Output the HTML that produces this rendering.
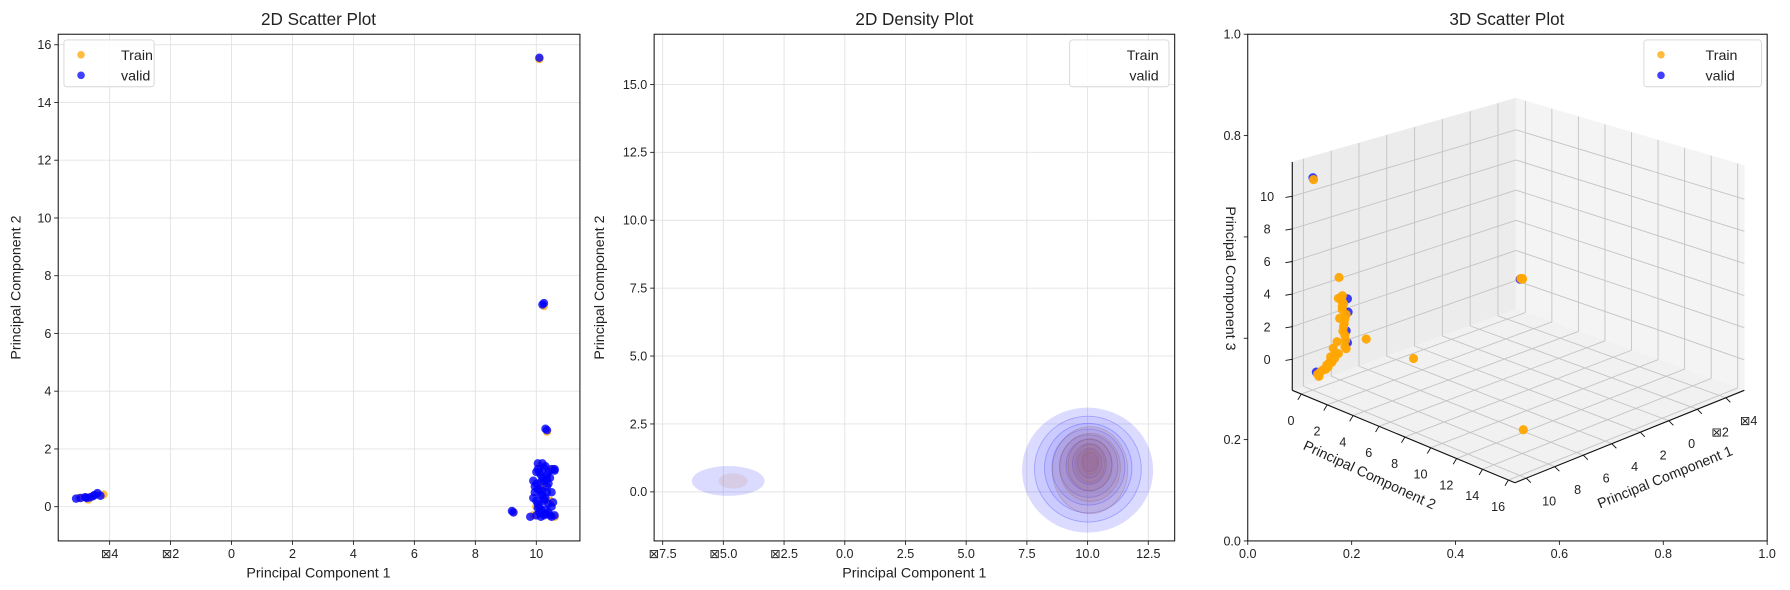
<!DOCTYPE html>
<html><head><meta charset="utf-8"><style>
html,body{margin:0;padding:0;background:#fff;}
svg{display:block;font-family:"Liberation Sans","DejaVu Sans",sans-serif;}
</style></head><body>
<svg id="fig" width="1790" height="590" viewBox="0 0 1568 517" preserveAspectRatio="none" xmlns="http://www.w3.org/2000/svg">
<rect x="0" y="0" width="1568" height="517" fill="#fff"/>
<g id="p1"></g>
<g id="p2"></g>
<g id="p3"></g>
<text x="279" y="22" font-size="15" text-anchor="middle" fill="#222">2D Scatter Plot</text>
<text x="279" y="506" font-size="12.5" text-anchor="middle" fill="#222">Principal Component 1</text>
<text transform="translate(18,252) rotate(-90)" font-size="12.5" text-anchor="middle" fill="#222">Principal Component 2</text>
<text x="801" y="22" font-size="15" text-anchor="middle" fill="#222">2D Density Plot</text>
<text x="801" y="506" font-size="12.5" text-anchor="middle" fill="#222">Principal Component 1</text>
<text transform="translate(529,252) rotate(-90)" font-size="12.5" text-anchor="middle" fill="#222">Principal Component 2</text>
<text x="1320" y="22" font-size="15" text-anchor="middle" fill="#222">3D Scatter Plot</text>
</svg>
<script>
// ---------- data ----------
const ticks1X = [-4,-2,0,2,4,6,8,10];
const ticks1Y = [0,2,4,6,8,10,12,14,16];
const trainX = [-5.0,-4.8,-4.7,-4.6,-4.4,-4.2,10.1,10.25,10.35,9.25,10.6,10.55,10.0,10.2,10.1,9.9,10.45,10.3];
const trainY = [0.3,0.33,0.25,0.35,0.42,0.42,15.5,6.95,2.6,-0.18,-0.35,1.3,0.0,0.7,1.4,-0.3,0.2,-0.25];
const validX = [-5.1,-4.95,-4.8,-4.65,-4.5,-4.4,-4.3,-4.75,-4.55,10.1,10.2,10.25,10.3,10.35,9.2,9.25,10.0,10.1,10.0,10.2,10.1,10.0,10.2,10.1,10.3,10.2,10.4,10.5,10.6,10.4,10.3,10.5,10.4,10.6,9.8,9.9,9.95,10.3,10.15,10.5,
  10.05,10.15,10.25,10.35,10.05,10.15,10.25,10.35,10.05,10.15,10.25,10.35,10.05,10.15,10.25,10.35,10.45,10.55,9.95,10.0,10.1,10.2,10.3,10.4,10.5,9.9,10.05,10.25,10.45,10.6];
const validY = [0.28,0.3,0.33,0.32,0.4,0.47,0.38,0.3,0.36,15.55,7.0,7.05,2.7,2.65,-0.15,-0.2,-0.3,0.0,0.2,0.4,0.6,0.8,1.0,1.2,1.4,1.5,1.2,1.3,1.25,0.8,0.3,0.0,-0.2,-0.3,-0.35,0.9,0.5,-0.1,-0.35,0.5,
  1.3,1.1,0.9,0.7,0.6,0.4,0.2,1.1,0.1,-0.1,-0.3,0.5,1.5,0.85,1.35,0.95,1.0,0.15,0.7,1.2,-0.2,0.55,-0.25,0.1,-0.35,0.3,-0.05,0.25,-0.3,1.3];

const ticks2X = [-7.5,-5.0,-2.5,0.0,2.5,5.0,7.5,10.0,12.5];
const ticks2Y = [0.0,2.5,5.0,7.5,10.0,12.5,15.0];
const blobCX = [-4.8,10.0];
const blobCY = [0.4,0.8];
const validLevelRX = [[1.5],[2.7,2.2,1.8,1.5,1.2,0.95,0.7,0.5,0.3]];
const validLevelRY = [[0.55],[2.3,1.95,1.65,1.4,1.15,0.95,0.75,0.55,0.35]];
const trainLevelRX = [[0.6],[1.55,1.25,0.9,0.6,0.35]];
const trainLevelRY = [[0.28],[1.6,1.25,0.95,0.7,0.45]];
const trainLevelDY = [[0.0],[0.0,0.1,0.2,0.25,0.3]];

const ticks3Frame = [0.0,0.2,0.4,0.6,0.8,1.0];
const ticks3PC1 = [-4,-2,0,2,4,6,8,10];
const ticks3PC2 = [0,2,4,6,8,10,12,14,16];
const ticks3PC3 = [0,2,4,6,8,10];
const train3PC1 = [10.2,10,10,10,10,10,10,10,9.9,10,10,10,10,10,10,10,10,10,10,10,-4.8,-4.6,-4.9,9.3,
  10,10,10,10,10,10,10,10,10,10,10,10,10,10,10,10];
const train3PC2 = [0.3,2.05,2.2,2.4,2.3,2.5,2.4,2.5,2.2,2.0,0.4,0.8,1.1,1.4,1.6,1.9,1.5,4.15,7.8,2.6,0.3,0.4,0.2,15.5,
  2.3,2.6,2.45,2.35,2.55,2.3,2.5,2.1,1.8,1.3,1.0,0.6,0.5,1.7,2.0,1.2];
const train3PC3 = [11.2,5.7,4.5,4.2,3.8,3.3,2.8,2.3,4.6,4.4,-0.8,-0.4,0.0,0.6,1.2,1.7,0.3,2.6,2.6,1.5,0.6,0.7,0.5,0.5,
  4.0,3.6,3.0,2.5,2.0,4.3,1.6,3.2,0.9,0.2,-0.3,-0.6,-0.9,0.6,1.0,-0.1];
const valid3PC1 = [10.2,10,10,10,10,10,-4.5];
const valid3PC2 = [0.25,2.7,2.75,2.6,2.7,0.3,0.45];
const valid3PC3 = [11.3,4.6,3.8,2.6,1.9,-0.7,0.7];

// ---------- helpers ----------
const NS = "http://www.w3.org/2000/svg";
function mk(parent, tag, attrs, txt){
  const e = document.createElementNS(NS, tag);
  for (const k in attrs) e.setAttribute(k, attrs[k]);
  if (txt !== undefined) e.textContent = txt;
  parent.appendChild(e);
  return e;
}
function fmt(v, d){ const s = Math.abs(v).toFixed(d); return v < 0 ? "\u22A0" + s : s; }
const ORANGE = "#ffa500", BLUE = "#0000ff";

// ---------- panel 1 ----------
(function(){
  const g = document.getElementById('p1');
  const L=51,R=508,T=30,B=474;
  const sx = v => 202.8 + v*26.7;
  const sy = v => 444 - v*25.3;
  ticks1X.forEach(t=>{
    const x = sx(t);
    let e = mk(g,'line',{x1:x,x2:x,y1:T,y2:B,stroke:'#e3e3e3','stroke-width':0.8});
     
    e = mk(g,'line',{x1:x,x2:x,y1:B,y2:B+3.5,stroke:'#222','stroke-width':0.8});
     
    e = mk(g,'text',{x:x,y:B+15,'font-size':11,'text-anchor':'middle',fill:'#222'},fmt(t,0));
     
  });
  ticks1Y.forEach(t=>{
    const y = sy(t);
    let e = mk(g,'line',{x1:L,x2:R,y1:y,y2:y,stroke:'#e3e3e3','stroke-width':0.8});
     
    e = mk(g,'line',{x1:L-3.5,x2:L,y1:y,y2:y,stroke:'#222','stroke-width':0.8});
     
    e = mk(g,'text',{x:L-6,y:y+3.8,'font-size':11,'text-anchor':'end',fill:'#222'},fmt(t,0));
     
  });
  trainX.forEach((v,i)=>{
    const e = mk(g,'circle',{cx:sx(v),cy:sy(trainY[i]),r:3.7,fill:ORANGE,'fill-opacity':0.75});
     
  });
  validX.forEach((v,i)=>{
    const e = mk(g,'circle',{cx:sx(v),cy:sy(validY[i]),r:3.7,fill:BLUE,'fill-opacity':0.8});
     
  });
  let e = mk(g,'rect',{x:L,y:T,width:R-L,height:B-T,fill:'none',stroke:'#111','stroke-width':0.9});
   
  const lg = mk(g,'g',{});
   
  mk(lg,'rect',{x:56,y:35,width:79,height:41,rx:2.5,fill:'#fff','fill-opacity':0.85,stroke:'#d6d6d6','stroke-width':0.8});
  e = mk(lg,'circle',{cx:71,cy:48,r:3.3,fill:ORANGE,'fill-opacity':0.75});
   
  e = mk(lg,'text',{x:106,y:52.5,'font-size':12.5,fill:'#222'},'Train');
   
  e = mk(lg,'circle',{cx:71,cy:66,r:3.3,fill:BLUE,'fill-opacity':0.75});
   
  e = mk(lg,'text',{x:106,y:70.5,'font-size':12.5,fill:'#222'},'valid');
   
})();

// ---------- panel 2 ----------
(function(){
  const g = document.getElementById('p2');
  const L=573,R=1029,T=30,B=474;
  const sx = v => 740 + v*21.27;
  const sy = v => 431 - v*23.8;
  const kx = 21.27, ky = 23.8;
  ticks2X.forEach(t=>{
    const x = sx(t);
    let e = mk(g,'line',{x1:x,x2:x,y1:T,y2:B,stroke:'#e3e3e3','stroke-width':0.8});
     
    e = mk(g,'line',{x1:x,x2:x,y1:B,y2:B+3.5,stroke:'#222','stroke-width':0.8});
     
    e = mk(g,'text',{x:x,y:B+15,'font-size':11,'text-anchor':'middle',fill:'#222'},fmt(t,1));
     
  });
  ticks2Y.forEach(t=>{
    const y = sy(t);
    let e = mk(g,'line',{x1:L,x2:R,y1:y,y2:y,stroke:'#e3e3e3','stroke-width':0.8});
     
    e = mk(g,'line',{x1:L-3.5,x2:L,y1:y,y2:y,stroke:'#222','stroke-width':0.8});
     
    e = mk(g,'text',{x:L-6,y:y+3.8,'font-size':11,'text-anchor':'end',fill:'#222'},fmt(t,1));
     
  });
  blobCX.forEach((cx,b)=>{
    validLevelRX[b].forEach((rx,i)=>{
      const e = mk(g,'ellipse',{cx:sx(cx+(b?0.1*i/8:0)),cy:sy(blobCY[b]+(b?0.3*i/8:0)),rx:rx*kx,ry:validLevelRY[b][i]*ky,
        fill:'#0000ff','fill-opacity':i===0?0.14:0.07,stroke:'#3030ff','stroke-opacity':i===0?0:0.3,'stroke-width':0.8});
       
    });
    trainLevelRX[b].forEach((rx,i)=>{
      const e = mk(g,'ellipse',{cx:sx(cx+(b?0.1:0.2)),cy:sy(blobCY[b]+trainLevelDY[b][i]),rx:rx*kx,ry:trainLevelRY[b][i]*ky,
        fill:'#c07050','fill-opacity':0.14,stroke:'#906050','stroke-opacity':b?0.3:0,'stroke-width':0.8});
       
    });
  });
  let e = mk(g,'rect',{x:L,y:T,width:R-L,height:B-T,fill:'none',stroke:'#111','stroke-width':0.9});
   
  const lg = mk(g,'g',{});
   
  mk(lg,'rect',{x:937,y:35,width:87,height:41,rx:2.5,fill:'#fff','fill-opacity':0.85,stroke:'#d6d6d6','stroke-width':0.8});
  e = mk(lg,'text',{x:1015,y:52.5,'font-size':12.5,fill:'#222','text-anchor':'end'},'Train');
   
  e = mk(lg,'text',{x:1015,y:70.5,'font-size':12.5,fill:'#222','text-anchor':'end'},'valid');
   
})();

// ---------- panel 3 ----------
(function(){
  const g = document.getElementById('p3');
  const L=1093,R=1548,T=30,B=474;
  ticks3Frame.forEach(t=>{
    const x = L + t*(R-L), y = B - t*(B-T);
    let e = mk(g,'line',{x1:x,x2:x,y1:B,y2:B+3.5,stroke:'#222','stroke-width':0.8});
     
    e = mk(g,'text',{x:x,y:B+15,'font-size':11,'text-anchor':'middle',fill:'#222'},t.toFixed(1));
     
    e = mk(g,'line',{x1:L-3.5,x2:L,y1:y,y2:y,stroke:'#222','stroke-width':0.8});
     
    if (t!==0.6 && t!==0.4){
      e = mk(g,'text',{x:L-6,y:y+3.8,'font-size':11,'text-anchor':'end',fill:'#222'},t.toFixed(1));
       
    }
  });
  let e = mk(g,'rect',{x:L,y:T,width:R-L,height:B-T,fill:'none',stroke:'#111','stroke-width':0.9});
   

  // floor quad corners and wall heights
  const F=[1327,423], Lc=[1132,342], Rc=[1528,342], Bc=[1328,271];
  const hF=200, hL=200, hR=197, hB=185;
  const xmax=10.8,xmin=-5.3,ymin=-0.7,ymax=16.5,zmin=-1.9,zmax=12.1;
  function P(x,y,z){
    const u=(xmax-x)/(xmax-xmin), v=(ymax-y)/(ymax-ymin), fz=(z-zmin)/(zmax-zmin);
    // bilinear: u=0,v=0 -> F ; u=0,v=1 -> L ; u=1,v=0 -> R ; u=1,v=1 -> B
    const w=[(1-u)*(1-v),(1-u)*v,u*(1-v),u*v];
    const px=w[0]*F[0]+w[1]*Lc[0]+w[2]*Rc[0]+w[3]*Bc[0];
    const py=w[0]*F[1]+w[1]*Lc[1]+w[2]*Rc[1]+w[3]*Bc[1];
    const h=w[0]*hF+w[1]*hL+w[2]*hR+w[3]*hB;
    return [px, py-fz*h];
  }
  function poly(pts){ return pts.map(p=>p[0].toFixed(1)+','+p[1].toFixed(1)).join(' '); }
  e = mk(g,'polygon',{points:poly([P(xmax,ymin,zmin),P(xmin,ymin,zmin),P(xmin,ymin,zmax),P(xmax,ymin,zmax)]),fill:'#ececec',stroke:'#ececec','stroke-width':0.5});
   
  e = mk(g,'polygon',{points:poly([P(xmin,ymin,zmin),P(xmin,ymax,zmin),P(xmin,ymax,zmax),P(xmin,ymin,zmax)]),fill:'#f4f4f4',stroke:'#f4f4f4','stroke-width':0.5});
   
  e = mk(g,'polygon',{points:poly([P(xmax,ymin,zmin),P(xmin,ymin,zmin),P(xmin,ymax,zmin),P(xmax,ymax,zmin)]),fill:'#f1f1f1',stroke:'#f1f1f1','stroke-width':0.5});
   
  function gl(a,b,name){
    const ln = mk(g,'line',{x1:a[0],y1:a[1],x2:b[0],y2:b[1],stroke:'#c4c4c4','stroke-width':0.8});
     
  }
  ticks3PC1.forEach(t=>{ gl(P(t,ymin,zmin),P(t,ymin,zmax),'pc1-gridline'); gl(P(t,ymin,zmin),P(t,ymax,zmin),'pc1-gridline'); });
  ticks3PC2.forEach(t=>{ gl(P(xmin,t,zmin),P(xmin,t,zmax),'pc2-gridline'); gl(P(xmin,t,zmin),P(xmax,t,zmin),'pc2-gridline'); });
  ticks3PC3.forEach(t=>{ gl(P(xmax,ymin,t),P(xmin,ymin,t),'pc3-gridline'); gl(P(xmin,ymin,t),P(xmin,ymax,t),'pc3-gridline'); });
  function ax(a,b,name){
    const ln = mk(g,'line',{x1:a[0],y1:a[1],x2:b[0],y2:b[1],stroke:'#111','stroke-width':1});
     
  }
  ax(P(xmax,ymin,zmin),P(xmax,ymax,zmin),'pc2-axis-line');
  ax(P(xmax,ymax,zmin),P(xmin,ymax,zmin),'pc1-axis-line');
  ax(P(xmax,ymin,zmin),P(xmax,ymin,zmax),'pc3-axis-line');
  ticks3PC2.forEach(t=>{
    const p=P(xmax,t,zmin);
    let e=mk(g,'line',{x1:p[0],y1:p[1],x2:p[0]-3,y2:p[1]+5,stroke:'#111','stroke-width':0.8});
     
    e=mk(g,'text',{x:p[0]-9,y:p[1]+27,'font-size':11,'text-anchor':'middle',fill:'#222'},fmt(t,0));
     
  });
  ticks3PC1.forEach(t=>{
    const p=P(t,ymax,zmin);
    let e=mk(g,'line',{x1:p[0],y1:p[1],x2:p[0]+4,y2:p[1]+4,stroke:'#111','stroke-width':0.8});
     
    e=mk(g,'text',{x:p[0]+20,y:p[1]+24,'font-size':11,'text-anchor':'middle',fill:'#222'},fmt(t,0));
     
  });
  ticks3PC3.forEach(t=>{
    const p=P(xmax,ymin,t);
    let e=mk(g,'line',{x1:p[0]-6,y1:p[1]+1,x2:p[0],y2:p[1],stroke:'#111','stroke-width':0.8});
     
    e=mk(g,'text',{x:p[0]-22,y:p[1]+4,'font-size':11,'text-anchor':'middle',fill:'#222'},fmt(t,0));
     
  });
  valid3PC1.forEach((v,i)=>{
    const p=P(v,valid3PC2[i],valid3PC3[i]);
    const c=mk(g,'circle',{cx:p[0],cy:p[1],r:4,fill:BLUE,'fill-opacity':0.75});
     
  });
  train3PC1.forEach((v,i)=>{
    const p=P(v,train3PC2[i],train3PC3[i]);
    const c=mk(g,'circle',{cx:p[0],cy:p[1],r:4,fill:ORANGE,'fill-opacity':0.95});
     
  });
  e=mk(g,'text',{transform:'translate(1198,420) rotate(25)','font-size':12.5,'text-anchor':'middle',fill:'#222'},'Principal Component 2');
   
  e=mk(g,'text',{transform:'translate(1460,422) rotate(-22)','font-size':12.5,'text-anchor':'middle',fill:'#222'},'Principal Component 1');
   
  e=mk(g,'text',{transform:'translate(1074,244) rotate(90)','font-size':12.5,'text-anchor':'middle',fill:'#222'},'Principal Component 3');
   
  const lg = mk(g,'g',{});
   
  mk(lg,'rect',{x:1440,y:35,width:103,height:41,rx:2.5,fill:'#fff','fill-opacity':0.85,stroke:'#d6d6d6','stroke-width':0.8});
  e = mk(lg,'circle',{cx:1455,cy:48,r:3.3,fill:ORANGE,'fill-opacity':0.75});
   
  e = mk(lg,'text',{x:1494,y:52.5,'font-size':12.5,fill:'#222'},'Train');
   
  e = mk(lg,'circle',{cx:1455,cy:66,r:3.3,fill:BLUE,'fill-opacity':0.75});
   
  e = mk(lg,'text',{x:1494,y:70.5,'font-size':12.5,fill:'#222'},'valid');
   
})();
</script>
</body></html>
